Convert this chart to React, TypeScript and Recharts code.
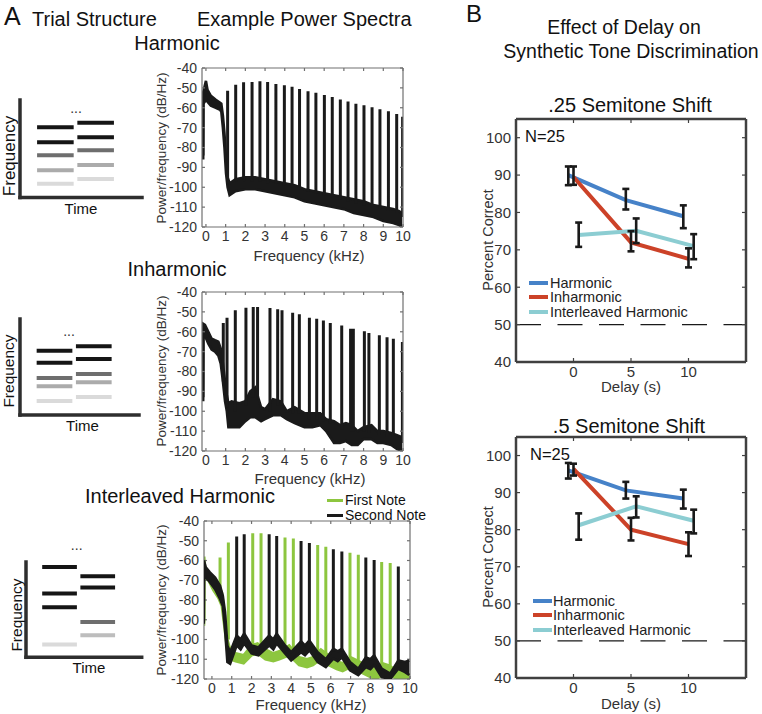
import React from 'react';
import { ComposedChart, Line, Area, XAxis, YAxis, ReferenceLine, ErrorBar } from 'recharts';

const FONT = '"Liberation Sans", Arial, Helvetica, sans-serif';
const INK = '#1a1a1a';
const GREEN = '#8dc63f';

// ---- Trial structure schematics: note time spans and partial frequency levels (0-100)
const noteOneSpan = [1.4, 4.4];
const noteTwoSpan = [4.7, 7.7];

const harmNoteOne = [72, 56.6, 43.3, 27.9, 14.1];
const harmNoteTwo = [76.7, 61.7, 48.4, 33.3, 19];
const inhNoteOne = [67, 54.5, 38.5, 29.9, 14.6];
const inhNoteTwo = [71.6, 58.3, 42.7, 34, 18.75];
const intNoteOne = [94.8, 66.9, 52.5, 13.3];
const intNoteTwo = [85.1, 73.2, 37.1, 23.1];

const shadesFive = ['#151515', '#151515', '#6e6e6e', '#ababab', '#dadada'];
const intShadesOne = ['#151515', '#151515', '#151515', '#dadada'];
const intShadesTwo = ['#151515', '#151515', '#6e6e6e', '#bdbdbd'];

// ---- Power spectra (kHz, dB/Hz)
const freqTicks = [0, 1, 2, 3, 4, 5, 6, 7, 8, 9, 10];
const dbTicks = [-120, -110, -100, -90, -80, -70, -60, -50, -40];

// Harmonic
const harmPeakFreq = [1.1, 1.51, 1.91, 2.34, 2.74, 3.13, 3.55, 3.98, 4.37, 4.75, 5.18, 5.58, 6.01, 6.41, 6.82, 7.21, 7.61, 8.02, 8.43, 8.83, 9.26, 9.68, 9.98];
const harmPeakDb = [-51.4, -48.4, -47.2, -47.0, -46.7, -47.0, -48.0, -48.7, -49.4, -50.6, -51.7, -52.4, -53.6, -54.6, -55.9, -56.8, -58.0, -58.8, -59.8, -60.8, -61.8, -63.2, -64.5];
const harmFootDb = [-98, -97, -97, -97, -97, -98, -98, -99, -100, -101, -102, -103, -104, -105, -106, -107, -108, -109, -110, -111, -112, -113, -115];
const harmBandFreq = [-0.14, -0.13, -0.06, 0.0, 0.08, 0.25, 0.5, 0.72, 0.78, 0.86, 0.94, 1.02, 1.1, 1.2, 1.5, 2.0, 2.5, 3.0, 3.5, 4.0, 4.5, 5.0, 5.5, 6.0, 6.5, 7.0, 7.5, 8.0, 8.5, 9.0, 9.5, 9.8, 9.95];
const harmBandHi = [-84, -52, -49, -46.5, -51, -54, -56, -57.5, -58, -64, -73, -86, -95, -98, -96, -95, -95, -96, -97, -98, -99, -101, -102, -103, -104, -105, -106, -107, -109, -110, -111, -112, -113];
const harmBandLo = [-86, -58, -57, -55, -57, -59, -60, -61, -62, -70, -80, -93, -100, -104, -102, -101, -101, -102, -103, -104, -105, -107, -108, -109, -110, -111, -113, -114, -115, -117, -118, -119, -120];

// Inharmonic
const inhPeakFreq = [0.88, 1.07, 1.49, 2.03, 2.4, 2.62, 3.25, 3.64, 3.86, 4.4, 4.74, 5.25, 5.62, 5.96, 6.31, 6.89, 7.34, 7.48, 8.04, 8.27, 8.8, 9.19, 9.51, 9.97];
const inhPeakDb = [-55.6, -52.9, -49.2, -47.9, -47.6, -47.6, -48.0, -48.7, -49.2, -50.4, -51.2, -52.9, -53.4, -54.4, -55.6, -56.9, -58.5, -58.5, -59.8, -60.6, -61.8, -62.8, -63.5, -65.2];
const inhFootDb = [-85, -98, -100, -97, -93, -93, -100, -97, -97, -101, -101, -104, -104, -105, -106, -109, -110, -110, -110, -111, -112, -113, -113, -116];
const inhBandFreq = [-0.14, -0.13, -0.05, 0.12, 0.29, 0.46, 0.63, 0.75, 0.85, 0.97, 1.06, 1.14, 1.3, 1.7, 2.0, 2.25, 2.5, 2.8, 3.0, 3.4, 3.8, 4.1, 4.5, 5.0, 5.4, 5.8, 6.1, 6.5, 6.8, 7.1, 7.4, 7.7, 8.0, 8.4, 8.7, 9.0, 9.4, 9.7, 9.95];
const inhBandHi = [-93, -56, -56.5, -60, -63.5, -64.3, -65, -68.5, -75, -85, -92, -96, -95, -96, -95, -90, -88, -98, -99, -94, -95, -100, -98, -101, -101, -101, -104, -105, -107, -106, -107, -110, -108, -107, -110, -110, -111, -112, -113];
const inhBandLo = [-95, -62, -62, -66, -69, -70, -72, -76, -84, -95, -100, -108, -108, -108, -105, -103, -103, -105, -104, -102, -102, -104, -106, -108, -108, -107, -110, -116, -116, -115, -117, -117, -114, -114, -116, -116, -117, -119, -120];

// Interleaved harmonic: first note (green) and second note (black)
const firstPeakFreq = [0.41, 0.83, 2.06, 2.48, 3.69, 4.11, 5.34, 5.75, 6.97, 7.39, 8.57, 9.0];
const firstPeakDb = [-58.5, -50.9, -46.2, -46.2, -48.4, -48.9, -52.1, -53.1, -56.1, -57.1, -60.7, -61.3];
const firstFootDb = [-76, -100, -104, -104, -106, -106, -108, -108, -110, -111, -113, -114];
const firstBandFreq = [-0.4, -0.39, -0.35, -0.18, 0.07, 0.33, 0.5, 0.66, 0.78, 0.92, 1.2, 1.6, 2.0, 2.3, 2.7, 3.1, 3.4, 3.9, 4.4, 4.8, 5.1, 5.5, 5.9, 6.3, 6.6, 7.0, 7.2, 7.6, 8.0, 8.3, 8.6, 8.9, 9.4, 9.7, 10.0];
const firstBandHi = [-91, -58, -64, -66, -70, -73, -76, -88, -100, -105, -107, -108, -103, -102, -105, -107, -106, -103, -109, -110, -109, -105, -108, -111, -112, -109, -110, -112, -114, -115, -112, -113, -116, -117, -118];
const firstBandLo = [-93, -62, -69, -70, -75, -79, -83, -96, -106, -110, -111, -112, -108, -107, -110, -111, -110, -108, -113, -114, -113, -110, -113, -115, -116, -114, -115, -117, -119, -120, -118, -118, -120, -120, -120];

const secondPeakFreq = [1.25, 1.63, 2.89, 3.27, 4.5, 4.92, 6.13, 6.56, 7.77, 8.19, 9.41];
const secondPeakDb = [-47.9, -46.7, -46.7, -47.6, -50.1, -51.2, -54.3, -55.5, -58.5, -59.7, -63.0];
const secondFootDb = [-100, -99, -99, -99, -102, -102, -106, -106, -110, -110, -112];
const secondBandFreq = [-0.41, -0.4, -0.31, -0.1, 0.16, 0.41, 0.55, 0.66, 0.78, 0.92, 1.25, 1.45, 1.63, 2.0, 2.35, 2.89, 3.1, 3.27, 3.69, 4.0, 4.5, 4.7, 4.92, 5.34, 5.75, 6.13, 6.35, 6.56, 6.97, 7.39, 7.77, 8.0, 8.19, 8.57, 9.0, 9.41, 9.75, 9.96];
const secondBandHi = [-90, -60, -63.5, -66, -68.6, -72.8, -77.8, -86, -103, -106.4, -98, -100, -97, -103, -104, -98, -100, -97, -103, -106.4, -101, -103, -100.5, -106.4, -110, -104.7, -106, -104.7, -111.4, -114.8, -109, -110, -108, -114.8, -117.3, -110.6, -111.4, -110.6];
const secondBandLo = [-92, -65, -68.6, -71, -74.5, -79.5, -83, -94.6, -111.4, -112.3, -103, -105, -102, -107, -108, -103, -105, -102, -107, -110.6, -106.4, -108, -105.5, -111.4, -114, -109.7, -111, -109, -115.6, -118, -114, -115, -113, -119, -120, -114.8, -116.5, -118];

// ---- Effect of delay (percent correct, with error bar bounds)
const delays = [0, 5, 10];
const pcTicks = [40, 50, 60, 70, 80, 90, 100];
const conditions = ['Harmonic', 'Inharmonic', 'Interleaved Harmonic'];
const conditionColors = ['#4682c8', '#cc4228', '#8ccdd2'];
const jitter = [-0.45, 0, 0.45];

const harm25 = [90, 83.3, 79.0];
const harm25Lo = [87.3, 80.8, 75.8];
const harm25Hi = [92.3, 86.3, 81.9];
const inh25 = [89.5, 72, 67.6];
const inh25Lo = [87.4, 69.6, 65.3];
const inh25Hi = [92.3, 75, 70.4];
const int25 = [74, 75.1, 71];
const int25Lo = [70.8, 71.8, 67.5];
const int25Hi = [77.3, 78.4, 74.2];

const harm5 = [96, 90.6, 88.4];
const harm5Lo = [93.8, 88.4, 85.7];
const harm5Hi = [98, 92.9, 90.8];
const inh5 = [96.4, 80, 76.1];
const inh5Lo = [94.6, 77.1, 72.9];
const inh5Hi = [97.8, 83.2, 79.3];
const int5 = [81.2, 86.3, 82.4];
const int5Lo = [77.3, 83.3, 79];
const int5Hi = [84.4, 89, 85.4];

function bandRows(freq: number[], hi: number[], lo: number[]) {
  return freq.map((f, i) => ({ f, band: [lo[i], hi[i]] }));
}

// each peak is its own vertical stroke; a null row breaks the line between peaks
function spikeRows(freq: number[], peak: number[], foot: number[]) {
  const rows: { f: number; db: number | null }[] = [];
  freq.forEach((f, i) => {
    rows.push({ f, db: foot[i] }, { f, db: peak[i] }, { f, db: null });
  });
  return rows;
}

function delayRows(k: number, mean: number[], lo: number[], hi: number[]) {
  return delays.map((d, i) => ({ x: d + jitter[k], pc: mean[i], err: [mean[i] - lo[i], hi[i] - mean[i]] }));
}

function Txt({ x, y, size, children, anchor = 'start', rotate = false, color = '#111', lh = 1 }: any) {
  let transform = anchor === 'middle' ? 'translate(-50%,-50%)' : 'translate(0,-50%)';
  if (rotate) transform = 'translate(-50%,-50%) rotate(-90deg)';
  return (
    <div style={{ position: 'absolute', left: x, top: y, fontSize: size, lineHeight: lh, whiteSpace: 'nowrap', color, transform }}>
      {children}
    </div>
  );
}

function Schematic({ top, plotHeight, axisX, right, one, two, shadeOne, shadeTwo }: any) {
  const bars = [
    ...one.map((lvl: number, i: number) => ({ span: noteOneSpan, lvl, color: shadeOne[i] })),
    ...two.map((lvl: number, i: number) => ({ span: noteTwoSpan, lvl, color: shadeTwo[i] })),
  ];
  const axisStyle = { stroke: '#2e2e2e', strokeWidth: 3.5, strokeLinecap: 'square' };
  return (
    <div style={{ position: 'absolute', left: 0, top: top - 6 }}>
      <ComposedChart width={right + 6} height={plotHeight + 12} margin={{ top: 6, right: 6, bottom: 4, left: axisX - 2 }}>
        <XAxis dataKey="t" type="number" domain={[0, 10]} allowDataOverflow height={2} tick={false} tickLine={false} axisLine={axisStyle} />
        <YAxis type="number" domain={[0, 100]} allowDataOverflow width={2} tick={false} tickLine={false} axisLine={axisStyle} />
        {bars.map((b, i) => (
          <Line
            key={i}
            data={[{ t: b.span[0], f: b.lvl }, { t: b.span[1], f: b.lvl }]}
            dataKey="f"
            stroke={b.color}
            strokeWidth={4}
            dot={false}
            activeDot={false}
            isAnimationActive={false}
          />
        ))}
      </ComposedChart>
    </div>
  );
}

const specFrame = { stroke: '#707070', strokeWidth: 1.2 };

// one chart per layer, stacked, so later layers paint over earlier ones
function Spectrum({ left, top, width, height, xDomain, layers }: any) {
  const tick = { fontSize: 14, fill: '#333', fontFamily: FONT };
  const blank = () => '';
  return (
    <>
      {layers.map((l: any, i: number) => {
        const base = i === 0;
        return (
          <div key={i} style={{ position: 'absolute', left, top }}>
            <ComposedChart width={width} height={height} margin={{ top: 10, right: 8, bottom: 0, left: 0 }}>
              <XAxis xAxisId={0} dataKey="f" type="number" domain={xDomain} allowDataOverflow ticks={freqTicks} interval={0}
                height={26} tickLine={false} tickSize={0} tickMargin={4} tick={base ? tick : false} axisLine={base ? specFrame : false} />
              <YAxis yAxisId={0} type="number" domain={[-120, -40]} allowDataOverflow ticks={dbTicks} interval={0}
                width={40} tickLine={false} tickSize={0} tickMargin={5} tick={base ? tick : false} axisLine={base ? specFrame : false} />
              {base && [
                <XAxis key="xb" xAxisId="bin" dataKey="f" type="number" domain={xDomain} allowDataOverflow ticks={freqTicks} interval={0}
                  mirror tickFormatter={blank} tickSize={3} tickLine={specFrame} axisLine={false} />,
                <XAxis key="xt" xAxisId="top" orientation="top" dataKey="f" type="number" domain={xDomain} allowDataOverflow ticks={freqTicks}
                  interval={0} mirror tickFormatter={blank} tickSize={3} tickLine={specFrame} axisLine={specFrame} />,
                <YAxis key="yl" yAxisId="lin" type="number" domain={[-120, -40]} allowDataOverflow ticks={dbTicks} interval={0}
                  mirror tickFormatter={blank} tickSize={3} tickLine={specFrame} axisLine={false} />,
                <YAxis key="yr" yAxisId="right" orientation="right" type="number" domain={[-120, -40]} allowDataOverflow ticks={dbTicks}
                  interval={0} mirror tickFormatter={blank} tickSize={3} tickLine={specFrame} axisLine={specFrame} />,
              ]}
              <Area data={l.band} dataKey="band" type="linear" stroke={l.color} strokeWidth={2.6}
                fill={l.color} fillOpacity={1} dot={false} activeDot={false} isAnimationActive={false} />
              <Line data={l.spikes} dataKey="db" type="linear" stroke={l.color} strokeWidth={3}
                dot={false} activeDot={false} isAnimationActive={false} />
            </ComposedChart>
          </div>
        );
      })}
    </>
  );
}

const boxFrame = { stroke: '#404040', strokeWidth: 2.5 };

function DelayPanel({ left, top, height, series }: any) {
  const tick = { fontSize: 15, fill: '#333', fontFamily: FONT };
  const blank = () => '';
  const tickStyle = { stroke: '#404040', strokeWidth: 1.2 };
  return (
    <div style={{ position: 'absolute', left, top }}>
      <ComposedChart width={274} height={height} margin={{ top: 10, right: 8, bottom: 0, left: 0 }}>
        <XAxis xAxisId={0} dataKey="x" type="number" domain={[-5, 15]} allowDataOverflow ticks={delays} interval={0}
          height={26} tickLine={false} tickSize={0} tickMargin={4} tick={tick} axisLine={boxFrame} />
        <XAxis xAxisId="bin" dataKey="x" type="number" domain={[-5, 15]} allowDataOverflow ticks={delays} interval={0}
          mirror tickFormatter={blank} tickSize={4} tickLine={tickStyle} axisLine={false} />
        <XAxis xAxisId="top" orientation="top" dataKey="x" type="number" domain={[-5, 15]} allowDataOverflow ticks={delays}
          interval={0} mirror tickFormatter={blank} tickSize={4} tickLine={tickStyle} axisLine={boxFrame} />
        <YAxis yAxisId={0} type="number" domain={[40, 105]} allowDataOverflow ticks={pcTicks} interval={0}
          width={36} tickLine={false} tickSize={0} tickMargin={5} tick={tick} axisLine={boxFrame} />
        <YAxis yAxisId="lin" type="number" domain={[40, 105]} allowDataOverflow ticks={pcTicks} interval={0}
          mirror tickFormatter={blank} tickSize={4} tickLine={tickStyle} axisLine={false} />
        <YAxis yAxisId="right" orientation="right" type="number" domain={[40, 105]} allowDataOverflow ticks={pcTicks}
          interval={0} mirror tickFormatter={blank} tickSize={4} tickLine={tickStyle} axisLine={boxFrame} />
        <ReferenceLine y={50} stroke={INK} strokeWidth={1.3} strokeDasharray="25 16.5" />
        {series.map((s: any, i: number) => (
          <Line key={`l${i}`} data={s} dataKey="pc" name={conditions[i]} type="linear" stroke={conditionColors[i]}
            strokeWidth={4} dot={false} activeDot={false} isAnimationActive={false} />
        ))}
        {series.map((s: any, i: number) => (
          <Line key={`e${i}`} data={s} dataKey="pc" stroke="none" legendType="none" dot={false} activeDot={false}
            isAnimationActive={false}>
            <ErrorBar dataKey="err" width={3.5} strokeWidth={2.6} stroke={INK} direction="y" isAnimationActive={false} />
          </Line>
        ))}
      </ComposedChart>
    </div>
  );
}

function ConditionLegend({ lineX, lineW, textX, rows }: any) {
  return (
    <>
      {conditions.map((c, i) => (
        <React.Fragment key={c}>
          <div style={{ position: 'absolute', left: lineX, top: rows[i] - 2, width: lineW, height: 4, background: conditionColors[i] }} />
          <Txt x={textX} y={rows[i]} size={14.5} color="#222" lh="12px">{c}</Txt>
        </React.Fragment>
      ))}
    </>
  );
}

export default function App() {
  const harmLayers = [{ color: INK, band: bandRows(harmBandFreq, harmBandHi, harmBandLo), spikes: spikeRows(harmPeakFreq, harmPeakDb, harmFootDb) }];
  const inhLayers = [{ color: INK, band: bandRows(inhBandFreq, inhBandHi, inhBandLo), spikes: spikeRows(inhPeakFreq, inhPeakDb, inhFootDb) }];
  const intLayers = [
    { color: GREEN, band: bandRows(firstBandFreq, firstBandHi, firstBandLo), spikes: spikeRows(firstPeakFreq, firstPeakDb, firstFootDb) },
    { color: INK, band: bandRows(secondBandFreq, secondBandHi, secondBandLo), spikes: spikeRows(secondPeakFreq, secondPeakDb, secondFootDb) },
  ];
  const quarter = [delayRows(0, harm25, harm25Lo, harm25Hi), delayRows(1, inh25, inh25Lo, inh25Hi), delayRows(2, int25, int25Lo, int25Hi)];
  const half = [delayRows(0, harm5, harm5Lo, harm5Hi), delayRows(1, inh5, inh5Lo, inh5Hi), delayRows(2, int5, int5Lo, int5Hi)];

  return (
    <div style={{ position: 'absolute', left: 0, top: 0, width: 762, height: 714, background: '#fff', fontFamily: FONT, overflow: 'hidden' }}>
      {/* Panel A headings */}
      <Txt x={4} y={16} size={25}>A</Txt>
      <Txt x={32} y={19} size={20}>Trial Structure</Txt>
      <Txt x={197} y={19} size={20}>Example Power Spectra</Txt>
      <Txt x={177} y={42.5} size={20} anchor="middle">Harmonic</Txt>
      <Txt x={177} y={269} size={20} anchor="middle">Inharmonic</Txt>
      <Txt x={180} y={495.5} size={20} anchor="middle">Interleaved Harmonic</Txt>

      {/* Trial structure schematics */}
      <Schematic top={100} plotHeight={97.5} axisX={20} right={142} one={harmNoteOne} two={harmNoteTwo} shadeOne={shadesFive} shadeTwo={shadesFive} />
      <Schematic top={319} plotHeight={96} axisX={20} right={139} one={inhNoteOne} two={inhNoteTwo} shadeOne={shadesFive} shadeTwo={shadesFive} />
      <Schematic top={561.7} plotHeight={95.3} axisX={26} right={141.7} one={intNoteOne} two={intNoteTwo} shadeOne={intShadesOne} shadeTwo={intShadesTwo} />
      <Txt x={8.5} y={156} size={17} rotate>Frequency</Txt>
      <Txt x={8.5} y={371} size={15.5} rotate>Frequency</Txt>
      <Txt x={16.7} y={615} size={15.5} rotate>Frequency</Txt>
      <Txt x={81} y={208} size={15} anchor="middle">Time</Txt>
      <Txt x={82.5} y={425} size={15} anchor="middle">Time</Txt>
      <Txt x={89} y={667} size={15} anchor="middle">Time</Txt>
      <Txt x={76} y={108} size={14} anchor="middle" color="#333">...</Txt>
      <Txt x={69} y={331} size={14} anchor="middle" color="#333">...</Txt>
      <Txt x={76.7} y={545} size={14} anchor="middle" color="#333">...</Txt>

      {/* Power spectra */}
      <Spectrum left={162} top={58} width={249} height={195} xDomain={[-0.2, 10]} layers={harmLayers} />
      <Spectrum left={162} top={282} width={249} height={195} xDomain={[-0.2, 10]} layers={inhLayers} />
      <Spectrum left={164} top={511} width={254} height={194} xDomain={[-0.4, 10]} layers={intLayers} />
      <Txt x={162} y={148} size={13.5} rotate color="#333">Power/frequency (dB/Hz)</Txt>
      <Txt x={162} y={371} size={13.5} rotate color="#333">Power/frequency (dB/Hz)</Txt>
      <Txt x={162} y={600} size={13.5} rotate color="#333">Power/frequency (dB/Hz)</Txt>
      <Txt x={309} y={255} size={15} anchor="middle" color="#333">Frequency (kHz)</Txt>
      <Txt x={310} y={478} size={15} anchor="middle" color="#333">Frequency (kHz)</Txt>
      <Txt x={311} y={704} size={15} anchor="middle" color="#333">Frequency (kHz)</Txt>
      <div style={{ position: 'absolute', left: 327, top: 498.5, width: 16, height: 3, background: GREEN }} />
      <div style={{ position: 'absolute', left: 327, top: 513.5, width: 16, height: 3, background: INK }} />
      <Txt x={345} y={499.5} size={14} lh="11px">First Note</Txt>
      <Txt x={345} y={515} size={14} lh="11px">Second Note</Txt>

      {/* Panel B */}
      <Txt x={466} y={14} size={24}>B</Txt>
      <Txt x={624} y={28} size={19.5} anchor="middle">Effect of Delay on</Txt>
      <Txt x={631} y={52} size={19.5} anchor="middle">Synthetic Tone Discrimination</Txt>
      <Txt x={630} y={104.5} size={20} anchor="middle">.25 Semitone Shift</Txt>
      <Txt x={629} y={426} size={20} anchor="middle">.5 Semitone Shift</Txt>

      <DelayPanel left={480} top={109} height={279} series={quarter} />
      <DelayPanel left={480} top={427} height={277} series={half} />
      <Txt x={525} y={135.5} size={16.5}>N=25</Txt>
      <Txt x={530} y={454} size={16.5}>N=25</Txt>
      <ConditionLegend lineX={529.3} lineW={19} textX={550} rows={[282.5, 297, 311.5]} />
      <ConditionLegend lineX={533.3} lineW={18.4} textX={553} rows={[600.5, 615, 629.5]} />
      <Txt x={488} y={240} size={14.5} rotate color="#333">Percent Correct</Txt>
      <Txt x={488} y={557} size={14.5} rotate color="#333">Percent Correct</Txt>
      <Txt x={631} y={387} size={15} anchor="middle" color="#333" lh="12px">Delay (s)</Txt>
      <Txt x={631} y={704} size={15} anchor="middle" color="#333" lh="12px">Delay (s)</Txt>
    </div>
  );
}
